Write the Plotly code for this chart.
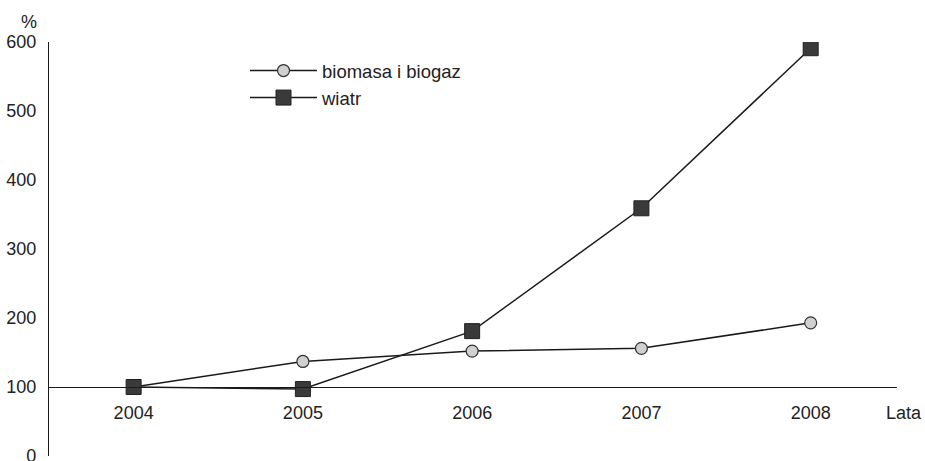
import plotly.graph_objects as go

years = [2004, 2005, 2006, 2007, 2008]
biomasa = [100, 137, 152, 156, 193]
wiatr = [100, 97, 181, 359, 591]
y_ticks = [0, 100, 200, 300, 400, 500, 600]

FONT = "Liberation Sans, Arial, sans-serif"
TXT = "#222222"

fig = go.Figure()
fig.add_trace(go.Scatter(
    x=years, y=biomasa, name="biomasa i biogaz", mode="lines+markers",
    line=dict(color="#1a1a1a", width=1.5),
    marker=dict(symbol="circle", size=12, color="#d0d0d0",
                line=dict(color="#333333", width=1.2)),
))
fig.add_trace(go.Scatter(
    x=years, y=wiatr, name="wiatr", mode="lines+markers",
    line=dict(color="#1a1a1a", width=1.5),
    marker=dict(symbol="square", size=15, color="#3a3a3a",
                line=dict(color="#222222", width=1)),
))

W, H = 925, 461
L, R, T, B = 49, 28, 42, 5
PW, PH = W - L - R, H - T - B

fig.update_layout(
    width=W, height=H,
    margin=dict(l=L, r=R, t=T, b=B, autoexpand=False),
    paper_bgcolor="white", plot_bgcolor="white",
    font=dict(family=FONT, size=18, color=TXT),
    showlegend=True,
    legend=dict(x=(245 - L) / PW, y=1 - (52 - T) / PH,
                xanchor="left", yanchor="top",
                bgcolor="rgba(0,0,0,0)", font=dict(size=18.5, color=TXT),
                tracegroupgap=0, itemwidth=67),
    xaxis=dict(
        range=[2003.5, 2008.51], tickmode="array", tickvals=years,
        ticktext=[str(y) for y in years],
        showgrid=False, zeroline=False, showline=True, linecolor="#1a1a1a",
        linewidth=1.2, ticks="", anchor="free", position=100 / 600,
        ticklabelstandoff=9, automargin=False,
    ),
    yaxis=dict(
        range=[0, 600], tickvals=y_ticks, showgrid=False, zeroline=False,
        showline=True, linecolor="#1a1a1a", linewidth=1.2, ticks="",
        ticklabelstandoff=8, automargin=False, ticklabeloverflow="allow",
    ),
    annotations=[
        dict(text="%", x=0, xref="paper", xanchor="right", xshift=-10,
             y=1, yref="paper", yanchor="bottom", yshift=8, showarrow=False,
             font=dict(size=18, color=TXT)),
        dict(text="Lata", x=1, xref="paper", xanchor="left", xshift=-13,
             y=100, yref="y", yanchor="top", yshift=-14, showarrow=False,
             font=dict(size=18, color=TXT)),
    ],
)

fig.write_html("out.html", config={"displayModeBar": False},
               post_script="document.body.style.margin='0';")
